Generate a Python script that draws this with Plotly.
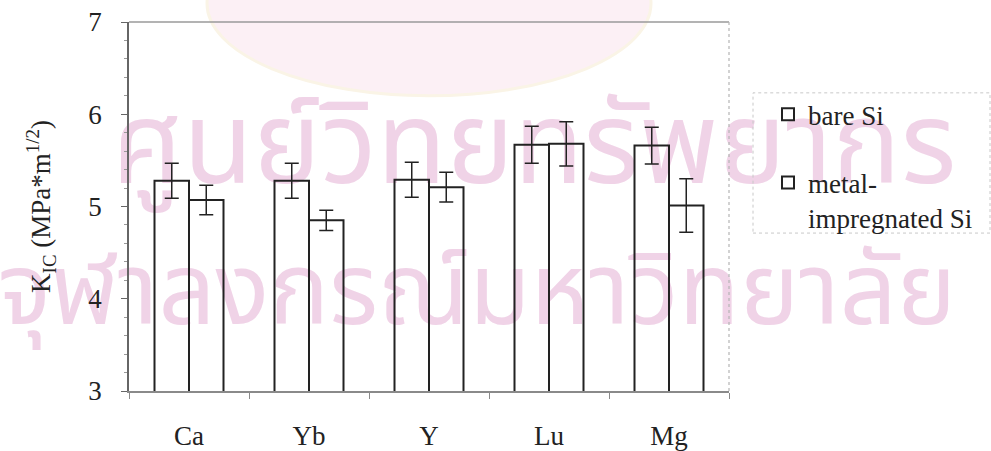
import plotly.graph_objects as go

# Fracture toughness by sintering additive
categories = ["Ca", "Yb", "Y", "Lu", "Mg"]
bare_si = [5.28, 5.28, 5.29, 5.67, 5.66]
bare_si_err = [0.19, 0.19, 0.19, 0.20, 0.20]
metal_si = [5.07, 4.85, 5.21, 5.68, 5.01]
metal_si_err = [0.16, 0.11, 0.16, 0.24, 0.29]
series_names = ["bare Si", "metal-<br>impregnated Si"]

# page watermark lines (drawn underneath the chart)
watermark_lines = ["ศูนย์วิทยทรัพยากร", "จุฬาลงกรณ์มหาวิทยาลัย"]
watermark_x = [0.675, 0.58]
watermark_y = [0.64, 0.25]
watermark_size = [114, 100]

SERIF = "Liberation Serif, Times New Roman, serif"
INK = "#222222"

fig = go.Figure()

# watermark lives on the hidden base axes so the bars sit on top of it
for txt, wx, wy, ws in zip(watermark_lines, watermark_x, watermark_y, watermark_size):
    fig.add_trace(go.Scatter(
        x=[wx], y=[wy], mode="text", text=[txt],
        textposition="middle center", cliponaxis=False, showlegend=False,
        hoverinfo="skip",
        textfont=dict(family="Noto Sans Thai, Noto Sans, DejaVu Sans",
                      size=ws, color="#f0d3e7"),
        xaxis="x", yaxis="y",
    ))

for i, (vals, errs) in enumerate([(bare_si, bare_si_err), (metal_si, metal_si_err)]):
    fig.add_trace(go.Bar(
        x=categories, y=vals, name=series_names[i],
        legendgroup=f"g{i}", xaxis="x2", yaxis="y2",
        marker=dict(color="rgba(255,255,255,0)", line=dict(color=INK, width=2)),
        error_y=dict(type="data", array=errs, visible=True,
                     color=INK, thickness=1.5, width=7),
    ))

fig.update_layout(
    width=991, height=451,
    margin=dict(l=129, r=262, t=22, b=60),
    paper_bgcolor="white", plot_bgcolor="white",
    barmode="group", bargap=0.425, bargroupgap=0,
    font=dict(family=SERIF, color=INK),
    showlegend=True,
    legend=dict(x=1.065, y=0.815, xanchor="left", yanchor="top",
                font=dict(family=SERIF, size=27, color=INK),
                bgcolor="rgba(0,0,0,0)", borderwidth=0,
                traceorder="grouped", tracegroupgap=30, valign="top"),
    xaxis=dict(range=[0, 1], visible=False, fixedrange=True, automargin=False),
    yaxis=dict(range=[0, 1], visible=False, fixedrange=True, automargin=False),
    xaxis2=dict(type="category", overlaying="x", automargin=False,
                showline=True, linecolor="#8a8a8a", linewidth=1.5,
                ticks="outside", tickson="boundaries", ticklen=6, tickcolor="#8a8a8a",
                tickfont=dict(family=SERIF, size=27, color=INK),
                ticklabelstandoff=20, showgrid=False, zeroline=False),
    yaxis2=dict(overlaying="y", range=[3, 7], dtick=1, automargin=False,
                showline=True, linecolor="#666666", linewidth=1.5,
                ticks="outside", ticklen=6, tickcolor="#666666",
                minor=dict(dtick=0.2, ticks="outside", ticklen=3, tickcolor="#999999"),
                tickfont=dict(family=SERIF, size=27, color=INK),
                ticklabelstandoff=14, showgrid=False, zeroline=False,
                title=dict(text="K<sub>IC</sub> (MPa*m<sup>1/2</sup>)",
                           font=dict(family=SERIF, size=27, color=INK), standoff=30)),
    shapes=[
        # faint crest emblem behind the top of the plot
        dict(type="circle", xref="paper", yref="paper", layer="below",
             x0=0.13, x1=0.87, y0=0.80, y1=1.30,
             fillcolor="#fcf0f5", line=dict(color="#faf4e6", width=3)),
        dict(type="line", xref="paper", yref="paper", x0=0, x1=1, y0=1, y1=1,
             line=dict(color="#9a9a9a", width=1.5)),
        dict(type="line", xref="paper", yref="paper", x0=1, x1=1, y0=0, y1=1,
             line=dict(color="#b5b5b5", width=1.2, dash="dot")),
        dict(type="rect", xref="paper", yref="paper", x0=1.04, x1=1.435, y0=0.428, y1=0.808,
             line=dict(color="#c8c8c8", width=1, dash="dot")),
    ],
)

fig.write_html("out.html")
